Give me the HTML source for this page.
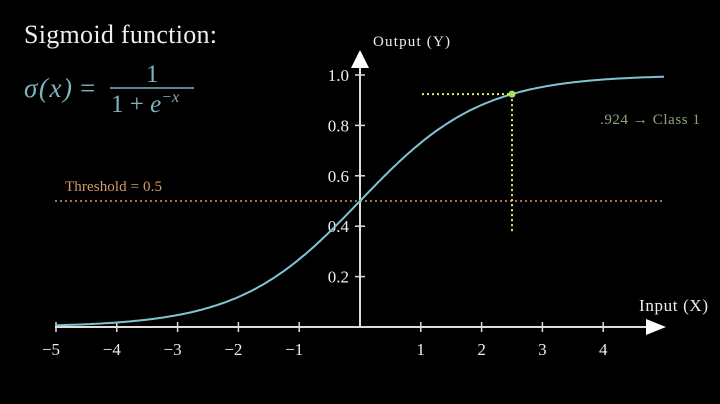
<!DOCTYPE html>
<html><head><meta charset="utf-8"><style>
body{margin:0;background:#000;width:720px;height:404px;overflow:hidden}
svg{display:block;font-family:"Liberation Serif",serif}
</style></head><body>
<svg id="c" width="720" height="404" viewBox="0 0 720 404">
<text x="24" y="43" fill="#eee" font-size="26" textLength="193">Sigmoid function:</text>
<g fill="#7fb3c0">
<text x="24" y="97" font-size="27" font-style="italic" textLength="48">σ(x)</text>
<text x="80" y="97" font-size="27">=</text>
<text x="146" y="82" font-size="25">1</text>
<line x1="110" y1="88" x2="194" y2="88" stroke="#7fb3c0" stroke-width="1.5"/>
<text x="111" y="112" font-size="25">1 + <tspan font-style="italic">e</tspan><tspan font-size="16" dy="-10" font-style="italic">−x</tspan></text>
</g>
<text x="65" y="191" fill="#d49a6a" font-size="15" textLength="97">Threshold = 0.5</text>
<text x="600" y="124" fill="#8fa57a" font-size="15" textLength="100">.924 → Class 1</text>
<text x="373" y="46" fill="#eee" font-size="15" textLength="77">Output (Y)</text>
<text x="639" y="311" fill="#eee" font-size="17" textLength="69">Input (X)</text>
<g id="ax"></g>
</svg>
<script>
const xTicks=[-5,-4,-3,-2,-1,1,2,3,4];
const yTicks=[0.2,0.4,0.6,0.8,1.0];
const threshold=[0.5];
const pointX=[2.5];
const pointY=[0.924];
const curveRange=[-5,5];
const X=v=>360+v*60.8, Y=v=>327-v*252;
const NS="http://www.w3.org/2000/svg", g=document.getElementById('ax');
function mk(t,a,name){const e=document.createElementNS(NS,t);for(const k in a)e.setAttribute(k,a[k]);


g.appendChild(e);return e;}
mk('line',{x1:55,y1:327,x2:650,y2:327,stroke:'#ddd','stroke-width':2},'x-axis');
mk('polygon',{points:'646,319 666,327 646,335',fill:'#fff'},'x-axis-arrow');
mk('line',{x1:360,y1:327,x2:360,y2:62,stroke:'#ddd','stroke-width':2},'y-axis');
mk('polygon',{points:'351,68 360,50 369,68',fill:'#fff'},'y-axis-arrow');
xTicks.forEach(v=>{mk('line',{x1:X(v),y1:322,x2:X(v),y2:332,stroke:'#ddd','stroke-width':1.5},'x-tick');
const t=mk('text',{x:X(v)-(v<0?5:0),y:355,fill:'#eee','font-size':17,'text-anchor':'middle'},'x-tick-label');t.textContent=(v<0?'−'+(-v):v);});
yTicks.forEach(v=>{mk('line',{x1:355,y1:Y(v),x2:365,y2:Y(v),stroke:'#ddd','stroke-width':1.5},'y-tick');
const t=mk('text',{x:349,y:Y(v)+6,fill:'#eee','font-size':17,'text-anchor':'end'},'y-tick-label');t.textContent=v.toFixed(1);});
mk('line',{x1:55,y1:Y(threshold[0]),x2:665,y2:Y(threshold[0]),stroke:'#d49a6a','stroke-width':1.5,'stroke-dasharray':'2,3'},'threshold-line');
let d='';for(let i=0;i<=200;i++){const x=curveRange[0]+(curveRange[1]-curveRange[0])*i/200;d+=(i?'L':'M')+X(x).toFixed(1)+','+Y(1/(1+Math.exp(-x))).toFixed(1);}
mk('path',{d:d,fill:'none',stroke:'#7fc4d4','stroke-width':2},'sigmoid-curve');
mk('line',{x1:422,y1:Y(pointY[0]),x2:X(pointX[0]),y2:Y(pointY[0]),stroke:'#e8ee6a','stroke-width':2,'stroke-dasharray':'2,3'},'point-h-guide');
mk('line',{x1:X(pointX[0]),y1:Y(pointY[0]),x2:X(pointX[0]),y2:232,stroke:'#e8ee6a','stroke-width':2,'stroke-dasharray':'2,3'},'point-v-guide');
mk('circle',{cx:X(pointX[0]),cy:Y(pointY[0]),r:3.5,fill:'#a8e05a'},'highlight-point');
</script>
</body></html>
